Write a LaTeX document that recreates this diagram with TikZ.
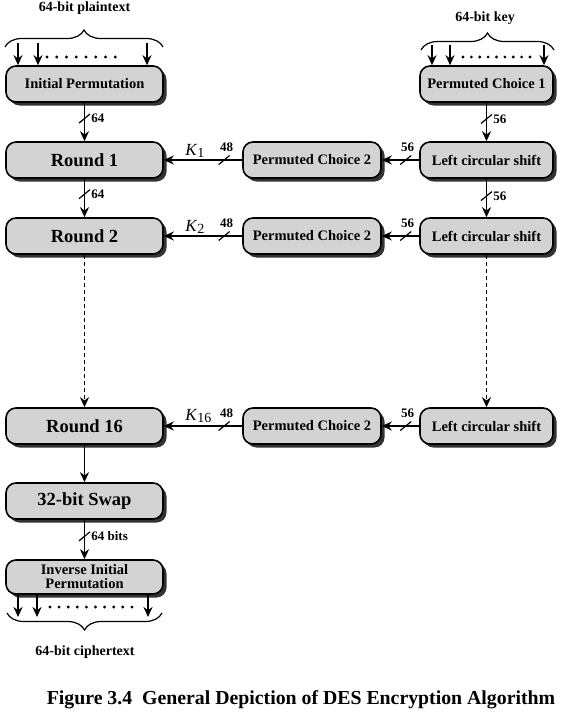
\documentclass[tikz,border=0pt]{standalone}
\usepackage{fontspec}
\setmainfont{Liberation Serif}
\usetikzlibrary{arrows.meta,shadows,decorations.pathreplacing}

\definecolor{boxgray}{HTML}{D3D3D3}
\newcommand{\subkey}[1]{\textit{K}\raisebox{-2pt}{\fontsize{14}{14}\selectfont #1}}

\tikzset{
  stage/.style={draw, line width=1.6pt, rounded corners=10pt, fill=boxgray,
    drop shadow={shadow xshift=3.5pt, shadow yshift=-3.5pt, opacity=1, fill=black!80},
    minimum height=36pt, inner sep=2pt, align=center,
    font=\fontsize{14.5}{14}\selectfont\bfseries},
  leftbox/.style={stage, minimum width=157pt},
  rightbox/.style={stage, minimum width=133pt},
  midbox/.style={stage, minimum width=138pt},
  bigtext/.style={font=\fontsize{18.5}{20}\selectfont\bfseries},
  conn/.style={line width=1.8pt, -{Stealth[length=10pt,width=9pt]}},
  dashconn/.style={conn, dash pattern=on 4pt off 3pt},
  lbl/.style={font=\fontsize{13}{13}\selectfont\bfseries, inner sep=1pt},
  klbl/.style={font=\fontsize{17}{17}\selectfont, inner sep=1pt},
  toplbl/.style={font=\fontsize{14}{14}\selectfont\bfseries},
  bracket/.style={line width=1.2pt, decorate, decoration={brace, amplitude=17pt}},
  dotrow/.style={line width=3.2pt, line cap=round},
  bitslash/.pic={\draw[line width=1.2pt, -, solid] (-5.5pt,-4.5pt) -- (5.5pt,4.5pt);}
}

\begin{document}
\begin{tikzpicture}[x=1pt,y=-1pt]
\useasboundingbox (0,0) rectangle (572,720);

% data path
\node[leftbox] (ip) at (84.5,84) {Initial Permutation};
\node[leftbox,bigtext] (r1) at (84.5,160) {Round 1};
\node[leftbox,bigtext] (r2) at (84.5,236) {Round 2};
\node[leftbox,bigtext] (r16) at (84.5,426) {Round 16};
\node[leftbox,bigtext] (swap) at (84.5,501) {32-bit Swap};
\node[leftbox,minimum height=34pt] (iip) at (84.5,577) {Inverse Initial\\Permutation};

% key schedule
\node[rightbox] (pc1) at (486.5,84) {Permuted Choice 1};
\node[rightbox] (ls1) at (486.5,160) {Left circular shift};
\node[rightbox] (ls2) at (486.5,236) {Left circular shift};
\node[rightbox] (ls16) at (486.5,426) {Left circular shift};
\node[midbox] (pca) at (312,160) {Permuted Choice 2};
\node[midbox] (pcb) at (312,236) {Permuted Choice 2};
\node[midbox] (pcc) at (312,426) {Permuted Choice 2};

% inputs
\node[toplbl] (plain) at (84.5,8) {64-bit plaintext};
\node[toplbl] (key) at (485,18) {64-bit key};
\draw[bracket] (5,47) -- (163,47);
\draw[bracket] (421,50) -- (554,50);
\coordinate (pa) at (18,43);
\coordinate (pb) at (38,43);
\coordinate (pc) at (147,43);
\coordinate (ka) at (432,45);
\coordinate (kb) at (450,45);
\coordinate (kc) at (544,45);
\draw[conn] (pa) -- (pa |- ip.north);
\draw[conn] (pb) -- (pb |- ip.north);
\draw[conn] (pc) -- (pc |- ip.north);
\draw[conn] (ka) -- (ka |- pc1.north);
\draw[conn] (kb) -- (kb |- pc1.north);
\draw[conn] (kc) -- (kc |- pc1.north);
\draw[dotrow, dash pattern=on 0pt off 9.75pt] (47,57) -- (125,57);
\draw[dotrow, dash pattern=on 0pt off 8.375pt] (463,57) -- (530,57);

% rounds
\draw[conn] (ip) -- pic[pos=.41]{bitslash} node[lbl,pos=.41,right=5pt]{64} (r1);
\draw[conn] (r1) -- pic[pos=.4]{bitslash} node[lbl,pos=.4,right=5pt]{64} (r2);
\draw[dashconn] (r2) -- (r16);
\draw[conn] (r16) -- (swap);
\draw[conn] (swap) -- pic[pos=.42]{bitslash} node[lbl,pos=.42,right=5pt]{64 bits} (iip);

% subkeys
\draw[conn] (pc1) -- pic[pos=.42]{bitslash} node[lbl,pos=.42,right=5pt]{56} (ls1);
\draw[conn] (ls1) -- pic[pos=.45]{bitslash} node[lbl,pos=.45,right=5pt]{56} (ls2);
\draw[dashconn] (ls2) -- (ls16);
\draw[conn] (ls1) -- pic[pos=.36]{bitslash} node[lbl,pos=.31,above=6pt]{56} (pca);
\draw[conn] (ls2) -- pic[pos=.36]{bitslash} node[lbl,pos=.31,above=6pt]{56} (pcb);
\draw[conn] (ls16) -- pic[pos=.36]{bitslash} node[lbl,pos=.31,above=6pt]{56} (pcc);
\draw[conn] (pca) -- pic[pos=.23]{bitslash} node[lbl,pos=.2,above=6pt]{48}
  node[klbl,pos=.75,anchor=south west,yshift=1pt]{\subkey{1}} (r1);
\draw[conn] (pcb) -- pic[pos=.23]{bitslash} node[lbl,pos=.2,above=6pt]{48}
  node[klbl,pos=.75,anchor=south west,yshift=1pt]{\subkey{2}} (r2);
\draw[conn] (pcc) -- pic[pos=.23]{bitslash} node[lbl,pos=.2,above=6pt]{48}
  node[klbl,pos=.75,anchor=south west,yshift=1pt]{\subkey{16}} (r16);

% output
\coordinate (ca) at (18,617);
\coordinate (cb) at (37,617);
\coordinate (cc) at (148,617);
\draw[conn] (iip.south -| ca) -- (ca);
\draw[conn] (iip.south -| cb) -- (cb);
\draw[conn] (iip.south -| cc) -- (cc);
\draw[dotrow, dash pattern=on 0pt off 9.1pt] (50,607) -- (132,607);
\draw[bracket] (162,613) -- (7,613);
\node[toplbl] (cipher) at (85,652) {64-bit ciphertext};

\node[font=\fontsize{19.8}{20}\selectfont\bfseries] (caption) at (301,700)
  {Figure 3.4\ \ General Depiction of DES Encryption Algorithm};
\end{tikzpicture}
\end{document}
